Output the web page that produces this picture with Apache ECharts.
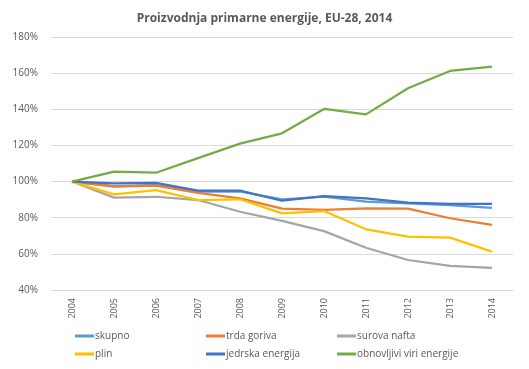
<!DOCTYPE html>
<html>
<head>
<meta charset="utf-8">
<script src="https://cdn.jsdelivr.net/npm/echarts@6/dist/echarts.min.js"></script>
<style>html,body{margin:0;padding:0;background:#fff}#c{width:529px;height:369px}</style>
</head>
<body>
<div id="c"></div>
<script>
const years = ['2004','2005','2006','2007','2008','2009','2010','2011','2012','2013','2014'];
const skupno = [100, 97.5, 98, 94.5, 94.5, 90.2, 91.6, 88.9, 88, 87, 85.5];
const trdaGoriva = [100, 97.2, 97.7, 93.8, 90.7, 85, 84.3, 85.2, 85, 79.7, 76];
const surovaNafta = [100, 91.1, 91.6, 89.8, 83.3, 78.3, 72.6, 63.4, 56.6, 53.4, 52.3];
const plin = [100, 92.9, 95.3, 89.8, 90.2, 82.4, 83.7, 73.6, 69.5, 69, 61.2];
const jedrska = [100, 99, 99.3, 95, 95, 89.4, 92, 90.7, 88.3, 87.6, 87.7];
const obnovljivi = [100, 105.5, 104.9, 113, 121, 126.7, 140.2, 137.2, 151.6, 161.2, 163.6];
const yTicks = [40, 60, 80, 100, 120, 140, 160, 180];

const names = ['skupno','trda goriva','surova nafta','plin','jedrska energija','obnovljivi viri energije'];
const datas = [skupno, trdaGoriva, surovaNafta, plin, jedrska, obnovljivi];
const colors = ['#5B9BD5','#ED7D31','#A5A5A5','#FFC000','#4472C4','#70AD47'];
const font = 'Open Sans';
const legendPos = [[70,326],[201,326],[332,326],[70,344],[201,344],[332,344]];

const chart = echarts.init(document.getElementById('c'));
chart.setOption({
  animation: false,
  textStyle: {fontFamily: font},
  title: {
    text: 'Proizvodnja primarne energije, EU-28, 2014',
    left: 'center', top: 8,
    textStyle: {fontFamily: font, fontSize: 12, fontWeight: 'bold', color: '#595959'}
  },
  legend: names.map((n, i) => ({
    data: [n], left: legendPos[i][0], top: legendPos[i][1],
    itemWidth: 19, itemHeight: 3, itemGap: 1,
    icon: 'rect',
    textStyle: {fontFamily: font, fontSize: 10, color: '#595959', padding: [0,0,0,-4]}
  })),
  grid: {left: 51, right: 16, top: 37, bottom: 79},
  xAxis: {
    type: 'category', data: years, boundaryGap: true,
    axisLine: {show: true, lineStyle: {color: '#D9D9D9'}},
    axisTick: {show: false},
    axisLabel: {rotate: 90, fontSize: 9, color: '#595959', margin: 8, fontFamily: font}
  },
  yAxis: {
    type: 'value', min: yTicks[0], max: yTicks[yTicks.length-1], interval: 20,
    axisLine: {show: false}, axisTick: {show: false},
    splitLine: {lineStyle: {color: '#D9D9D9'}},
    axisLabel: {formatter: v => v + '%', fontSize: 10, color: '#595959', margin: 13, fontFamily: font}
  },
  series: names.map((n, i) => ({
    name: n, type: 'line', data: datas[i], symbol: 'none',
    lineStyle: {width: 2.25, color: colors[i]}, itemStyle: {color: colors[i]}
  }))
});
</script>
</body>
</html>
